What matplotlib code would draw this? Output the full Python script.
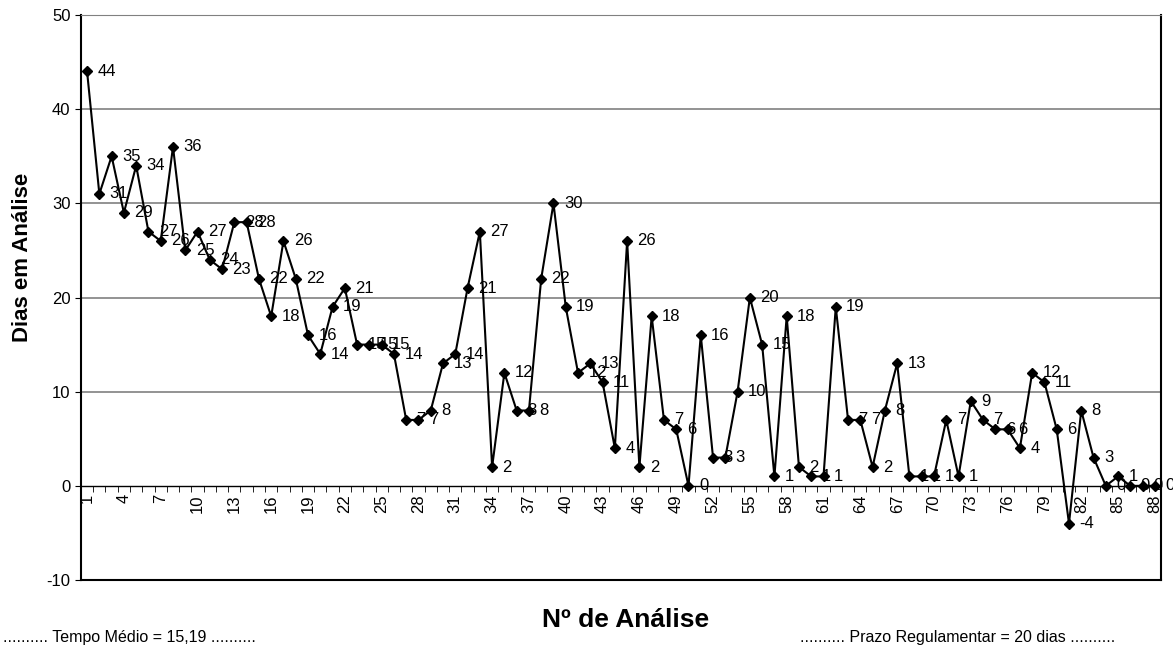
import matplotlib
matplotlib.use('Agg')
import matplotlib.pyplot as plt
from matplotlib.ticker import FixedLocator

plt.rcParams['font.family'] = ['Liberation Sans', 'DejaVu Sans']
plt.rcParams['axes.unicode_minus'] = False

# Dias em análise por nº de análise
analise = list(range(1, 89))
dias = [44, 31, 35, 29, 34, 27, 26, 36, 25, 27,
        24, 23, 28, 28, 22, 18, 26, 22, 16, 14,
        19, 21, 15, 15, 15, 14, 7, 7, 8, 13,
        14, 21, 27, 2, 12, 8, 8, 22, 30, 19,
        12, 13, 11, 4, 26, 2, 18, 7, 6, 0,
        16, 3, 3, 10, 20, 15, 1, 18, 2, 1,
        1, 19, 7, 7, 2, 8, 13, 1, 1, 1,
        7, 1, 9, 7, 6, 6, 4, 12, 11, 6,
        -4, 8, 3, 0, 1, 0, 0, 0]
tick_pos = list(range(1, 89, 3))
tempo_medio = ".......... Tempo Médio = 15,19 .........."
prazo = ".......... Prazo Regulamentar = 20 dias .........."

fig = plt.figure(figsize=(11.73, 6.49), dpi=100)
ax = fig.add_axes([0.069, 0.1063, 0.9208, 0.8706])

# gridlines
for y in [10, 20, 30, 40]:
    ax.axhline(y, color='#808080', lw=1.2, zorder=1)

ax.plot(analise, dias, color='black', lw=1.5, marker='D', markersize=5.5, zorder=3)
for x, v in zip(analise, dias):
    ax.annotate(str(v), (x, v), xytext=(7.5, 0), textcoords='offset points',
                va='center', ha='left', fontsize=12, zorder=4)

ax.set_xlim(0.5, 88.5)
ax.set_ylim(-10, 50)
ax.set_yticks([-10, 0, 10, 20, 30, 40, 50])
ax.tick_params(axis='y', labelsize=12, length=4, direction='out')

# category axis placed at y=0
ax.spines['bottom'].set_position(('data', 0))
ax.spines['bottom'].set_linewidth(1.0)
ax.set_xticks(tick_pos)
ax.set_xticklabels([str(t) for t in tick_pos], rotation=90, fontsize=12)
ax.xaxis.set_minor_locator(FixedLocator([i + 0.5 for i in range(0, 89)]))
ax.tick_params(axis='x', which='major', length=0, pad=6)
ax.tick_params(axis='x', which='minor', length=4, direction='out')

ax.spines['top'].set_color('#808080')
ax.spines['left'].set_linewidth(1.5)
ax.spines['right'].set_linewidth(1.5)
ax.axhline(-10, color='black', lw=1.5, clip_on=False, zorder=2)

fig.text(0.019, 0.604, 'Dias em Análise', rotation=90, fontsize=16,
         fontweight='bold', ha='center', va='center')
fig.text(0.533, 0.045, 'Nº de Análise', fontsize=19, fontweight='bold',
         ha='center', va='center')
fig.text(0.11, 0.018, tempo_medio, fontsize=11.5, ha='center', va='center')
fig.text(0.816, 0.018, prazo, fontsize=11.5, ha='center', va='center')

plt.savefig('out.png', dpi=100)
